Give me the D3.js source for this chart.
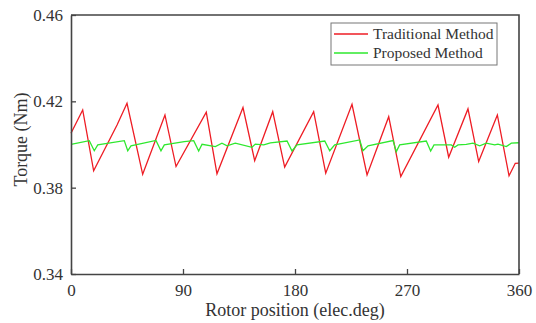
<!DOCTYPE html>
<html>
<head>
<meta charset="utf-8">
<script src="https://cdn.jsdelivr.net/npm/d3@7"></script>
<style>
  body { margin: 0; background: #fff; }
  svg text { font-family: "Liberation Serif", "Times New Roman", serif; }
</style>
</head>
<body>
<div id="main"></div>
<script>
// rotor position (elec.deg) and torque values
const tradPos = [0, 9.4, 18.2, 37, 45, 57.6, 75.5, 84.4, 108.7, 117.3, 138.2, 147.6, 162.1, 171.7,
  195, 204.7, 225.8, 237.9, 255.3, 265, 294.9, 303.5, 319, 327.6, 342.6, 352, 357, 360];
const tradTorque = [0.4052, 0.416, 0.3878, 0.409, 0.4191, 0.3862, 0.4137, 0.3898, 0.4150, 0.3864,
  0.4171, 0.3925, 0.4152, 0.3895, 0.4152, 0.3867, 0.4186, 0.3859, 0.4129, 0.3851, 0.4183, 0.3941,
  0.4165, 0.3921, 0.4137, 0.3855, 0.3913, 0.3914];

const propPos = [0, 14.7, 18.7, 21.5, 42.8, 45.6, 48.2, 68.3, 72.3, 75.0, 91.0, 98.6, 102.6, 105.3,
  116.0, 121.3, 125.4, 132.0, 145.4, 148.1, 154.9, 160.2, 173.6, 177.6, 181.6, 203.9, 207.9, 211.9,
  232.0, 234.6, 238.7, 258.8, 261.4, 264.1, 285.5, 289.0, 291.7, 305.6, 308.3, 311.0, 317.6, 323.0,
  328.4, 333.7, 340.5, 343.1, 349.8, 353.8, 360];
const propTorque = [0.4001, 0.4018, 0.3971, 0.3998, 0.4018, 0.3971, 0.3994, 0.4019, 0.3971, 0.3998,
  0.4013, 0.4018, 0.3970, 0.4001, 0.3990, 0.4006, 0.3994, 0.4006, 0.3987, 0.4002, 0.3998, 0.4008,
  0.4016, 0.3970, 0.3998, 0.4016, 0.3971, 0.3998, 0.4021, 0.3971, 0.3994, 0.4018, 0.3967, 0.3998,
  0.4016, 0.3970, 0.3998, 0.3998, 0.3987, 0.3998, 0.4001, 0.4006, 0.3994, 0.4006, 0.3998, 0.4002,
  0.3990, 0.4006, 0.4008];

const xTicks = [0, 90, 180, 270, 360];
const yTicks = [0.34, 0.38, 0.42, 0.46];
const seriesNames = ['Traditional Method', 'Proposed Method'];
const seriesColors = ['#ee1c24', '#2ee82e'];

const width = 536, height = 323;
const margin = { left: 71, right: 17, top: 15, bottom: 49 };
const axisColor = '#444444';
const textColor = '#333333';
const serif = '"Liberation Serif", "Times New Roman", serif';

const svg = d3.select('#main').append('svg')
  .attr('width', width)
  .attr('height', height);

const x = d3.scaleLinear().domain([0, 360]).range([margin.left, width - margin.right]);
const y = d3.scaleLinear().domain([0.34, 0.46]).range([height - margin.bottom, margin.top]);

// series
const line = d3.line().x(d => x(d[0])).y(d => y(d[1]));
const series = [
  d3.zip(tradPos, tradTorque),
  d3.zip(propPos, propTorque)
];
svg.selectAll('.series')
  .data(series)
  .enter().append('path')
    .attr('class', 'series')
    .attr('d', line)
    .attr('fill', 'none')
    .attr('stroke', (d, i) => seriesColors[i])
    .attr('stroke-width', 1.3);

// axes (ticks pointing inward)
const xAxis = svg.append('g')
  .attr('transform', `translate(0, ${y(0.34)})`)
  .call(d3.axisBottom(x).tickValues(xTicks).tickSizeInner(-5).tickSizeOuter(0).tickPadding(10));
const yAxis = svg.append('g')
  .attr('transform', `translate(${x(0)}, 0)`)
  .call(d3.axisLeft(y).tickValues(yTicks).tickFormat(d3.format('.2f')).tickSizeInner(-5).tickSizeOuter(0).tickPadding(8));

[xAxis, yAxis].forEach(a => {
  a.attr('font-family', serif);
  a.select('.domain').attr('stroke', axisColor).attr('stroke-width', 1.6);
  a.selectAll('.tick line').attr('stroke', axisColor).attr('stroke-width', 1.3);
  a.selectAll('.tick text')
    .attr('fill', textColor)
    .style('font-size', '17px');
});

// top and right border
svg.append('path')
  .attr('d', `M${x(0)},${y(0.46)}H${x(360)}V${y(0.34)}`)
  .attr('fill', 'none')
  .attr('stroke', axisColor)
  .attr('stroke-width', 1.6);

// axis titles
svg.append('text')
  .attr('x', (x(0) + x(360)) / 2)
  .attr('y', 316)
  .attr('text-anchor', 'middle')
  .attr('fill', textColor)
  .style('font-size', '18px')
  .text('Rotor position (elec.deg)');
svg.append('text')
  .attr('transform', `translate(27, ${(y(0.34) + y(0.46)) / 2 - 5}) rotate(-90)`)
  .attr('text-anchor', 'middle')
  .attr('fill', textColor)
  .style('font-size', '18px')
  .text('Torque (Nm)');

// legend
const legend = svg.append('g').attr('transform', 'translate(331, 23)');
legend.append('rect')
  .attr('width', 166)
  .attr('height', 42)
  .attr('fill', '#fff')
  .attr('stroke', '#777')
  .attr('stroke-width', 1);
seriesNames.forEach((name, i) => {
  const row = legend.append('g').attr('transform', `translate(0, ${11 + i * 19})`);
  row.append('line')
    .attr('x1', 3).attr('x2', 37)
    .attr('stroke', seriesColors[i])
    .attr('stroke-width', 1.3);
  row.append('text')
    .attr('x', 42)
    .attr('dy', '0.35em')
    .attr('fill', textColor)
    .style('font-size', '15.5px')
    .text(name);
});
</script>
</body>
</html>
